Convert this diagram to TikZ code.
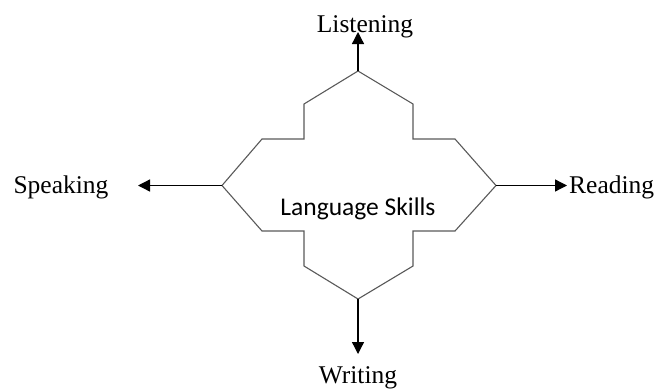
\documentclass[tikz,border=0pt]{standalone}
\usepackage{fontspec}
\setmainfont{Liberation Serif}
\newfontfamily\labelsans{Carlito}
\usetikzlibrary{arrows.meta}
\begin{document}
\begin{tikzpicture}[x=1pt,y=-1pt,
  outline/.style={draw=black!65,line width=1.1pt,line join=miter},
  skillarrow/.style={draw=black,line width=1.3pt,-{Triangle[width=12pt,length=12pt]}},
  skill/.style={font=\fontsize{25.5}{30}\selectfont,inner sep=0pt},
  centre/.style={font=\labelsans\fontsize{25.5}{30}\selectfont,inner sep=0pt}]
\useasboundingbox (0,0) rectangle (655,389);
% corner points of the stepped outline
\coordinate (top) at (358,71);
\coordinate (bottom) at (358,299);
\coordinate (left) at (222,185.5);
\coordinate (right) at (496,185.5);
\path[outline] (top) -- (304,104) -- (304,139) -- (262,139) -- (left)
  -- (262,231) -- (304,231) -- (304,266) -- (bottom)
  -- (413,266) -- (413,231) -- (455,231) -- (right)
  -- (455,139) -- (413,139) -- (413,104) -- cycle;
% labels
\node[centre,anchor=base] (lang) at (358,215) {Language Skills};
\node[skill,anchor=base] (listen) at (365,32) {Listening};
\node[skill,anchor=base] (speak) at (61,193) {Speaking};
\node[skill,anchor=base west] (read) at (569,193) {Reading};
\node[skill,anchor=base] (write) at (358,383) {Writing};
% arrow ends
\coordinate (listenEnd) at (358,32);
\coordinate (speakEnd) at (138,185.5);
\coordinate (readEnd) at (567,185.5);
\coordinate (writeEnd) at (358,354);
\draw[skillarrow] (top) -- (listenEnd);
\draw[skillarrow] (left) -- (speakEnd);
\draw[skillarrow] (right) -- (readEnd);
\draw[skillarrow] (bottom) -- (writeEnd);
\end{tikzpicture}
\end{document}
